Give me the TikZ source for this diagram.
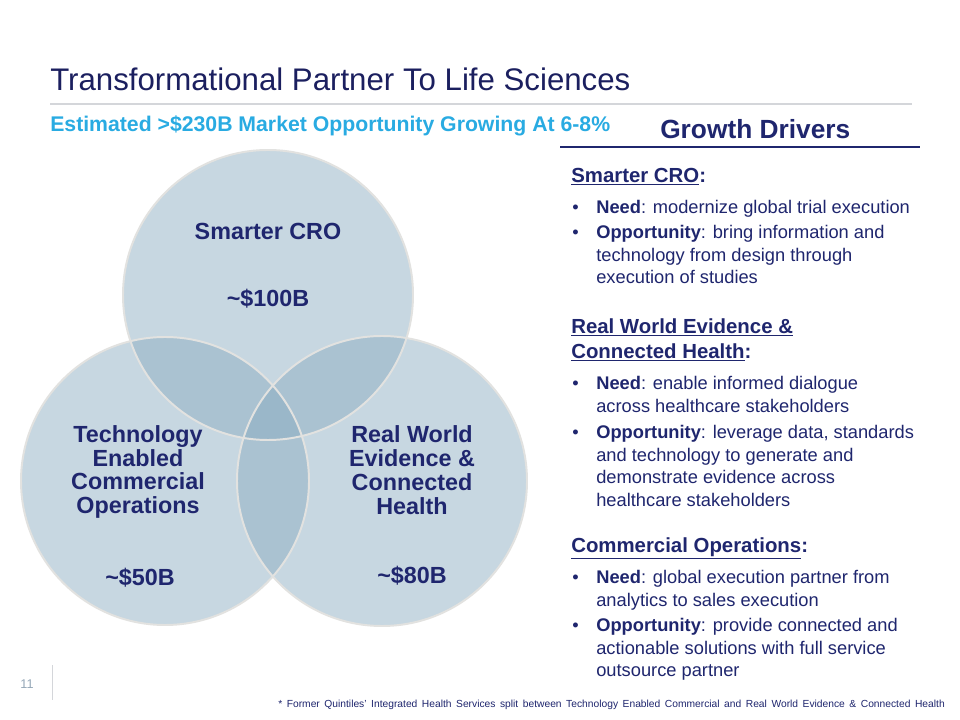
\documentclass[tikz,border=0pt]{standalone}
\usepackage{fontspec}
\setmainfont{Liberation Sans}
\definecolor{qnavy}{RGB}{31,38,110}
\definecolor{qtitle}{RGB}{27,31,95}
\definecolor{qsky}{RGB}{41,171,226}
\definecolor{qvenn}{RGB}{138,172,193}
\definecolor{qrim}{RGB}{226,226,224}
\definecolor{qgray}{RGB}{150,168,184}
\definecolor{qrule}{RGB}{212,214,218}
\usetikzlibrary{positioning}
\newcommand{\blt}{\makebox[17.1pt][l]{\textbullet}}
\newcommand{\cnt}{\hspace*{17.1pt}}

\begin{document}
\begin{tikzpicture}[x=0.025cm, y=-0.025cm,
  venntxt/.style={font=\bfseries\fontsize{16.6}{17}\selectfont, text=qnavy, align=center, inner sep=0},
  head/.style={anchor=north west, inner sep=0, align=left, text=qnavy, font=\bfseries\fontsize{14.5}{17.8}\selectfont},
  item/.style={anchor=north west, inner sep=0, align=left, text=qnavy, font=\fontsize{13}{16}\selectfont}]
  \useasboundingbox (0,0) rectangle (960,720);
  \fill[white] (0,0) rectangle (960,720);

  % Title block
  \node[anchor=base west, inner sep=0, text=qtitle, font=\fontsize{22.2}{26}\selectfont] (title) at (50,91) {Transformational Partner To Life Sciences};
  \draw[qrule, line width=1.1pt] (50,104) -- (912,104);
  \node[anchor=base west, inner sep=0, text=qsky, font=\bfseries\fontsize{15.1}{18}\selectfont] (market) at (50,132) {Estimated >\$230B Market Opportunity Growing At 6-8\%};
  \node[anchor=base west, inner sep=0, text=qnavy, font=\bfseries\fontsize{18.7}{22}\selectfont] (drivers) at (660,139) {Growth Drivers};
  \draw[qnavy, line width=1.8pt] (560,147) -- (920,147);

  % Venn circles
  \fill[qvenn, opacity=.47] (268,295) circle (145);
  \fill[qvenn, opacity=.47] (165,481) circle (144);
  \fill[qvenn, opacity=.47] (382,481) circle (145);
  \draw[qrim, line width=1.4pt] (268,295) circle (145);
  \draw[qrim, line width=1.4pt] (165,481) circle (144);
  \draw[qrim, line width=1.4pt] (382,481) circle (145);

  % Venn labels
  \node[venntxt] (cro) at (268,231) {Smarter CRO};
  \node[venntxt] (crosize) at (268,299) {\textasciitilde\$100B};
  \node[venntxt] (tec) at (138,472) {Technology\\Enabled\\Commercial\\Operations};
  \node[venntxt] (tecsize) at (140,578) {\textasciitilde\$50B};
  \node[venntxt] (rwe) at (412,470) {Real World\\Evidence \&\\Connected\\Health};
  \node[venntxt] (rwesize) at (412,576) {\textasciitilde\$80B};

  % Growth drivers text
  \node[head] (h1) at (571,168) {\underline{Smarter CRO}:};
  \node[item] (b1) at (572,200) {\blt\textbf{Need}: modernize global trial execution};
  \node[item] (b2) at (572,225) {\blt\textbf{Opportunity}: bring information and\\\cnt technology from design through\\\cnt execution of studies};
  \node[head] (h2) at (571,318) {\underline{Real World Evidence \&}\\\underline{Connected Health}:};
  \node[item] (b3) at (572,376) {\blt\textbf{Need}: enable informed dialogue\\\cnt across healthcare stakeholders};
  \node[item] (b4) at (572,425) {\blt\textbf{Opportunity}: leverage data, standards\\\cnt and technology to generate and\\\cnt demonstrate evidence across\\\cnt healthcare stakeholders};
  \node[head] (h3) at (571,537) {\underline{Commercial Operations}:};
  \node[item] (b5) at (572,570) {\blt\textbf{Need}: global execution partner from\\\cnt analytics to sales execution};
  \node[item] (b6) at (572,618) {\blt\textbf{Opportunity}: provide connected and\\\cnt actionable solutions with full service\\\cnt outsource partner};

  % Footer
  \node[text=qgray, font=\fontsize{9}{10}\selectfont, inner sep=0] (page) at (27,684) {11};
  \draw[qrule, line width=0.7pt] (52,665) -- (52,700);
  \node[anchor=base west, inner sep=0, text=qnavy, font=\fontsize{7.3}{8}\selectfont] (note) at (278,707) {\makebox[474pt][s]{* Former Quintiles' Integrated Health Services split between Technology Enabled Commercial and Real World Evidence \& Connected Health}};
\end{tikzpicture}
\end{document}
